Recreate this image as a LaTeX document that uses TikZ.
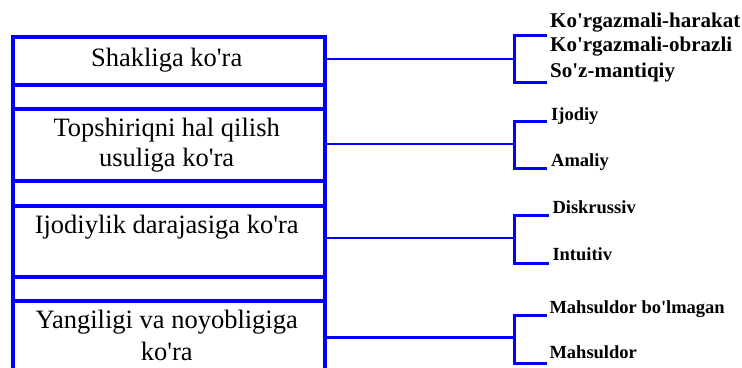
\documentclass[tikz,border=0pt]{standalone}
\usepackage{fontspec}
\setmainfont{Liberation Serif}[Ligatures=TeXOff]
\begin{document}
\begin{tikzpicture}[x=1pt,y=-1pt,
  frame/.style={rectangle, draw=blue, line width=4pt, minimum width=312.5pt, inner sep=0pt, anchor=north west},
  maintext/.style={font=\fontsize{26.5}{30}\selectfont, anchor=base, inner sep=0pt},
  labA/.style={font=\fontsize{21}{24}\selectfont\bfseries, anchor=base west, inner sep=0pt},
  labB/.style={font=\fontsize{18.5}{22}\selectfont\bfseries, anchor=base west, inner sep=0pt},
  conn/.style={draw=blue, line width=2pt},
  brk/.style={draw=blue, line width=3pt}]
\useasboundingbox (0,0) rectangle (742,367);
\clip (0,0) rectangle (742,367);
% frame
\node[frame, minimum height=48pt] (b1) at (10.5,35) {};
\node[frame, minimum height=24pt] (g1) at (10.5,83) {};
\node[frame, minimum height=71.7pt] (b2) at (10.5,107) {};
\node[frame, minimum height=25pt] (g2) at (10.5,178.7) {};
\node[frame, minimum height=71.6pt] (b3) at (10.5,203.7) {};
\node[frame, minimum height=23.4pt] (g3) at (10.5,275.3) {};
\node[frame, minimum height=100pt] (b4) at (10.5,298.7) {};
% texts
\node[maintext] (t1) at (166.7,66.7) {Shakliga ko'ra};
\node[maintext] (t2a) at (166.7,136.7) {Topshiriqni hal qilish};
\node[maintext] (t2b) at (166.7,166.7) {usuliga ko'ra};
\node[maintext] (t3) at (166.7,233.3) {Ijodiylik darajasiga ko'ra};
\node[maintext] (t4a) at (166.7,328.3) {Yangiligi va noyobligiga};
\node[maintext] (t4b) at (166.7,360) {ko'ra};
% junctions and bracket ends
\coordinate (j1) at (514.7,59.3);
\coordinate (a1) at (547,35);
\coordinate (c1) at (547,82);
\coordinate (j2) at (514.7,144);
\coordinate (a2) at (546.7,121);
\coordinate (c2) at (546.7,168);
\coordinate (j3) at (514.7,238.3);
\coordinate (a3) at (549,215);
\coordinate (c3) at (549,263);
\coordinate (j4) at (514.7,337.7);
\coordinate (a4) at (546.7,315);
\coordinate (c4) at (546.7,363);
% connectors
\draw[conn] (b1.east |- j1) -- (j1);
\draw[conn] (b2.east |- j2) -- (j2);
\draw[conn] (b3.east |- j3) -- (j3);
\draw[conn, line width=2.5pt] (b4.east |- j4) -- (j4);
\draw[brk] (a1) -| (j1) |- (c1);
\draw[brk] (a2) -| (j2) |- (c2);
\draw[brk] (a3) -| (j3) |- (c3);
\draw[brk] (a4) -| (j4) |- (c4);
% labels
\node[labA] (l11) at (550,27.7) {Ko'rgazmali-harakat};
\node[labA] (l12) at (550,51.7) {Ko'rgazmali-obrazli};
\node[labA] (l13) at (550,77.7) {So'z-mantiqiy};
\node[labB] (l21) at (551,120.7) {Ijodiy};
\node[labB] (l22) at (551,166.7) {Amaliy};
\node[labB] (l31) at (552.3,213.3) {Diskrussiv};
\node[labB] (l32) at (552.3,260) {Intuitiv};
\node[labB] (l41) at (549.3,313.3) {Mahsuldor bo'lmagan};
\node[labB] (l42) at (549.3,358.3) {Mahsuldor};
\end{tikzpicture}
\end{document}
